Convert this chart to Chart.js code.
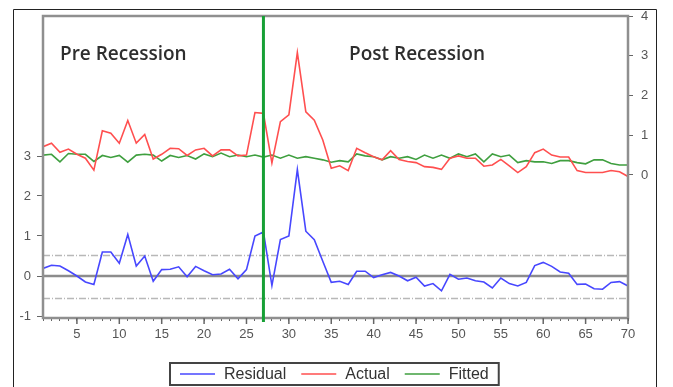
<!DOCTYPE html>
<html>
<head>
<meta charset="utf-8">
<script src="https://cdn.jsdelivr.net/npm/chart.js@4.4.1/dist/chart.umd.min.js"></script>
<style>
  html, body { margin: 0; padding: 0; background: #fff; }
  #wrap { width: 673px; height: 387px; position: relative; }
</style>
</head>
<body>
<div id="wrap"><canvas id="chart" width="673" height="387"></canvas></div>
<script>
// observation index 1..70
const periods = Array.from({ length: 70 }, (_, i) => i + 1);

const residual = [
  0.19, 0.27, 0.25, 0.13, 0.00, -0.15, -0.21, 0.60, 0.60, 0.32,
  1.04, 0.25, 0.50, -0.13, 0.16, 0.17, 0.23, -0.02, 0.24, 0.13,
  0.03, 0.05, 0.17, -0.07, 0.16, 1.00, 1.10, -0.24, 0.91, 1.00,
  2.66, 1.12, 0.91, 0.37, -0.16, -0.13, -0.21, 0.12, 0.12, -0.04,
  0.03, 0.09, 0.00, -0.12, -0.03, -0.25, -0.19, -0.37, 0.04, -0.08,
  -0.05, -0.12, -0.15, -0.30, -0.05, -0.19, -0.25, -0.16, 0.26, 0.34,
  0.24, 0.10, 0.07, -0.21, -0.20, -0.32, -0.33, -0.16, -0.14, -0.25
];

const actual = [
  0.71, 0.80, 0.57, 0.65, 0.52, 0.42, 0.12, 1.11, 1.05, 0.80,
  1.37, 0.80, 1.02, 0.40, 0.52, 0.67, 0.66, 0.49, 0.63, 0.67,
  0.48, 0.63, 0.63, 0.48, 0.50, 1.57, 1.55, 0.30, 1.34, 1.51,
  3.08, 1.59, 1.38, 0.88, 0.17, 0.23, 0.11, 0.67, 0.56, 0.46,
  0.38, 0.61, 0.39, 0.34, 0.31, 0.21, 0.19, 0.14, 0.42, 0.48,
  0.42, 0.42, 0.22, 0.25, 0.39, 0.23, 0.06, 0.21, 0.56, 0.65,
  0.50, 0.45, 0.45, 0.11, 0.06, 0.06, 0.06, 0.11, 0.08, -0.04
];

const fitted = [
  0.50, 0.52, 0.33, 0.54, 0.52, 0.52, 0.34, 0.49, 0.44, 0.49,
  0.32, 0.50, 0.52, 0.50, 0.35, 0.49, 0.44, 0.49, 0.40, 0.53,
  0.46, 0.55, 0.46, 0.50, 0.46, 0.50, 0.45, 0.50, 0.42, 0.50,
  0.42, 0.46, 0.42, 0.38, 0.32, 0.36, 0.33, 0.53, 0.48, 0.46,
  0.38, 0.46, 0.42, 0.46, 0.39, 0.50, 0.42, 0.50, 0.42, 0.53,
  0.46, 0.53, 0.33, 0.53, 0.46, 0.50, 0.31, 0.36, 0.33, 0.33,
  0.29, 0.36, 0.36, 0.31, 0.28, 0.38, 0.38, 0.29, 0.25, 0.25
];

const leftTicks = [-1, 0, 1, 2, 3];
const rightTicks = [0, 1, 2, 3, 4];
const bandLines = [0.52, -0.54];   // residual +/- band
const breakPeriod = 27;             // recession break
const regionLabels = [
  { text: 'Pre Recession', x: 3 },
  { text: 'Post Recession', x: 37.1 }
];

const toXY = arr => arr.map((v, i) => ({ x: periods[i], y: v }));

const decor = {
  id: 'decor',
  beforeDatasetsDraw(chart) {
    const { ctx, chartArea: a, scales } = chart;
    const yL = scales.yL;
    ctx.save();
    // dashed band lines
    ctx.strokeStyle = '#b8b8b8';
    ctx.lineWidth = 1.5;
    ctx.setLineDash([7, 2, 1, 2]);
    bandLines.forEach(v => {
      const y = Math.round(yL.getPixelForValue(v)) + 0.5;
      ctx.beginPath(); ctx.moveTo(a.left, y); ctx.lineTo(a.right, y); ctx.stroke();
    });
    ctx.setLineDash([]);
    // zero line
    ctx.strokeStyle = '#8c8c8c';
    ctx.lineWidth = 2.5;
    const y0 = yL.getPixelForValue(0);
    ctx.beginPath(); ctx.moveTo(a.left, y0); ctx.lineTo(a.right, y0); ctx.stroke();
    // region titles
    ctx.fillStyle = '#2e2e2e';
    ctx.font = '600 19px "Open Sans"';
    ctx.textBaseline = 'alphabetic';
    regionLabels.forEach(r => {
      ctx.fillText(r.text, scales.x.getPixelForValue(r.x), 60);
    });
    ctx.restore();
  },
  afterDatasetsDraw(chart) {
    const { ctx, chartArea: a, scales } = chart;
    ctx.save();
    // plot frame
    ctx.strokeStyle = '#8f8f8f';
    ctx.lineWidth = 2.5;
    ctx.strokeRect(a.left, a.top, a.right - a.left, a.bottom - a.top);
    // longer ticks every 5 periods
    ctx.strokeStyle = '#666';
    ctx.lineWidth = 1.5;
    periods.filter(p => p % 5 === 0).forEach(p => {
      const x = scales.x.getPixelForValue(p);
      ctx.beginPath(); ctx.moveTo(x, a.bottom); ctx.lineTo(x, a.bottom + 6); ctx.stroke();
    });
    // break line
    const xb = scales.x.getPixelForValue(breakPeriod);
    ctx.strokeStyle = '#17a035';
    ctx.lineWidth = 3;
    ctx.beginPath(); ctx.moveTo(xb, a.top); ctx.lineTo(xb, a.bottom + 4); ctx.stroke();
    ctx.restore();
  },
  afterDraw(chart) {
    const { ctx } = chart;
    ctx.save();
    // outer frame (open at the bottom)
    ctx.strokeStyle = '#222';
    ctx.lineWidth = 1;
    ctx.beginPath();
    ctx.moveTo(13.5, 400); ctx.lineTo(13.5, 9.5); ctx.lineTo(656.5, 9.5); ctx.lineTo(656.5, 400);
    ctx.stroke();
    // legend
    ctx.font = '16px "Liberation Sans"';
    ctx.textBaseline = 'middle';
    let x = 180;
    const ly = 374;
    chart.data.datasets.forEach(ds => {
      ctx.strokeStyle = ds.borderColor;
      ctx.lineWidth = 1.5;
      ctx.beginPath(); ctx.moveTo(x, ly); ctx.lineTo(x + 35, ly); ctx.stroke();
      x += 44;
      ctx.fillStyle = '#333';
      ctx.fillText(ds.label, x, ly + 1);
      x += ctx.measureText(ds.label).width + 15;
    });
    ctx.strokeStyle = '#444';
    ctx.lineWidth = 2;
    ctx.strokeRect(170, 363, x - 5 - 170, 22);
    ctx.restore();
  }
};

new Chart(document.getElementById('chart'), {
  type: 'line',
  data: {
    datasets: [
      { label: 'Residual', data: toXY(residual), yAxisID: 'yL', borderColor: '#4747ff' },
      { label: 'Actual', data: toXY(actual), yAxisID: 'yR', borderColor: '#ff4f4f' },
      { label: 'Fitted', data: toXY(fitted), yAxisID: 'yR', borderColor: '#3f9f3f' }
    ]
  },
  options: {
    responsive: false,
    animation: false,
    devicePixelRatio: 1,
    layout: { padding: { top: 16, left: 0, right: 0, bottom: 39 } },
    elements: {
      line: { borderWidth: 1.6, tension: 0 },
      point: { radius: 0 }
    },
    plugins: { legend: { display: false }, tooltip: { enabled: false } },
    scales: {
      x: {
        type: 'linear', min: 1, max: 70,
        afterFit: s => { s.height = 30; },
        ticks: {
          stepSize: 1, autoSkip: false, maxRotation: 0, padding: 6,
          color: '#555', font: { family: 'Liberation Sans', size: 13 },
          callback: v => (v % 5 === 0 ? v : '')
        },
        grid: { drawOnChartArea: false, tickLength: 3, tickColor: '#666' },
        border: { display: false }
      },
      yL: {
        position: 'left', min: -1.05, max: 6.5,
        afterFit: s => { s.width = 43; },
        afterBuildTicks: s => { s.ticks = leftTicks.map(v => ({ value: v })); },
        ticks: { padding: 6, color: '#555', font: { family: 'Liberation Sans', size: 13 } },
        grid: { drawOnChartArea: false, tickLength: 6, tickColor: '#666' },
        border: { display: false }
      },
      yR: {
        position: 'right', min: -3.6, max: 4,
        afterFit: s => { s.width = 45; },
        afterBuildTicks: s => { s.ticks = rightTicks.map(v => ({ value: v })); },
        ticks: { padding: 8, color: '#555', font: { family: 'Liberation Sans', size: 13 } },
        grid: { drawOnChartArea: false, tickLength: 5, tickColor: '#666' },
        border: { display: false }
      }
    }
  },
  plugins: [decor]
});
</script>
</body>
</html>
